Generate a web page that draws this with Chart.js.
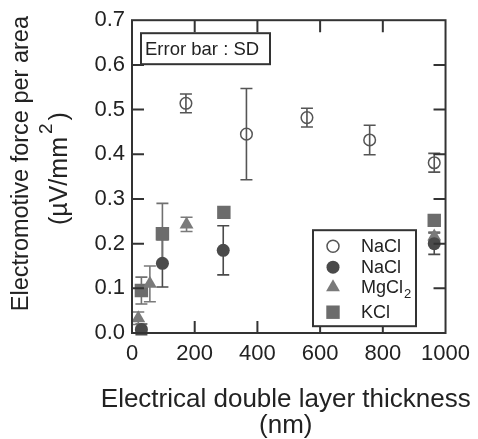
<!DOCTYPE html>
<html><head><meta charset="utf-8">
<script src="https://cdn.jsdelivr.net/npm/chart.js@4.4.1/dist/chart.umd.min.js"></script>
<style>html,body{margin:0;padding:0;background:#fff;}#wrap{width:478px;height:439px;}</style>
</head><body><div id="wrap"><canvas id="c" width="478" height="439"></canvas></div>
<script>
// ---- data ----
const xTickValues = [0, 200, 400, 600, 800, 1000];
const xTickLabels = ["0", "200", "400", "600", "800", "1000"];
const yTickValues = [0, 0.1, 0.2, 0.3, 0.4, 0.5, 0.6, 0.7];
const yTickLabels = ["0.0", "0.1", "0.2", "0.3", "0.4", "0.5", "0.6", "0.7"];

const xTitleLines = ["Electrical double layer thickness", "(nm)"];
const yTitleLine1 = "Electromotive force per area";
const yTitleLine2 = ["(µV/mm", "2", ")"];
const noteText = "Error bar : SD";

const seriesNames = ["NaCl", "NaCl", "MgCl", "KCl"];

const naclOpenX = [172, 365, 558, 758, 964];
const naclOpenY = [0.514, 0.445, 0.482, 0.432, 0.381];
const naclOpenErr = [0.021, 0.102, 0.021, 0.033, 0.021];

const naclFilledX = [30, 97, 291, 964];
const naclFilledY = [0.008, 0.156, 0.185, 0.200];
const naclFilledErr = [0.012, 0.053, 0.055, 0.024];

const mgcl2X = [20, 57, 174, 964];
const mgcl2Y = [0.033, 0.110, 0.243, 0.216];
const mgcl2Err = [0.014, 0.040, 0.016, 0.010];

const kclX = [30, 97, 293, 964];
const kclY = [0.095, 0.222, 0.270, 0.252];
const kclErr = [0.030, 0.068, 0, 0];

const FONT = "'Liberation Sans', Arial, Helvetica, sans-serif";

function pts(xs, ys, es) { return xs.map((x, i) => ({ x: x, y: ys[i], e: es[i] })); }

const errorBars = {
  id: 'errorBars',
  beforeDatasetsDraw(chart) {
    const ctx = chart.ctx;
    const xs = chart.scales.x, ys = chart.scales.y;
    chart.data.datasets.forEach(ds => {
      ctx.save();
      ctx.strokeStyle = ds.errColor;
      ctx.lineWidth = 1.6;
      ds.data.forEach(p => {
        if (!p.e) return;
        const px = xs.getPixelForValue(p.x);
        const top = ys.getPixelForValue(p.y + p.e);
        const bot = ys.getPixelForValue(p.y - p.e);
        ctx.beginPath();
        ctx.moveTo(px, top); ctx.lineTo(px, bot);
        ctx.moveTo(px - 6, top); ctx.lineTo(px + 6, top);
        ctx.moveTo(px - 6, bot); ctx.lineTo(px + 6, bot);
        ctx.stroke();
      });
      ctx.restore();
    });
  }
};

const frameAndExtras = {
  id: 'frameAndExtras',
  afterDraw(chart) {
    const ctx = chart.ctx;
    const a = chart.chartArea;
    const xs = chart.scales.x, ys = chart.scales.y;
    const cx = (a.left + a.right) / 2, cy = (a.top + a.bottom) / 2;
    ctx.save();
    ctx.strokeStyle = '#333';
    ctx.lineWidth = 2;
    ctx.strokeRect(a.left, a.top, a.right - a.left, a.bottom - a.top);
    const TL = 12;
    ctx.beginPath();
    xTickValues.forEach(v => {
      const px = xs.getPixelForValue(v);
      if (px <= a.left + 1 || px >= a.right - 1) return;
      ctx.moveTo(px, a.bottom); ctx.lineTo(px, a.bottom - TL);
      ctx.moveTo(px, a.top); ctx.lineTo(px, a.top + TL);
    });
    yTickValues.forEach(v => {
      const py = ys.getPixelForValue(v);
      if (py <= a.top + 1 || py >= a.bottom - 1) return;
      ctx.moveTo(a.left, py); ctx.lineTo(a.left + TL, py);
      ctx.moveTo(a.right, py); ctx.lineTo(a.right - TL, py);
    });
    ctx.stroke();

    // axis titles
    ctx.fillStyle = '#222';
    ctx.textBaseline = 'alphabetic';
    ctx.textAlign = 'center';
    ctx.font = '26px ' + FONT;
    ctx.fillText(xTitleLines[0], cx - 3, a.bottom + 74);
    ctx.fillText(xTitleLines[1], cx - 3, a.bottom + 100);

    ctx.save();
    ctx.translate(a.left - 104, cy - 13);
    ctx.rotate(-Math.PI / 2);
    ctx.font = '23.5px ' + FONT;
    ctx.fillText(yTitleLine1, 0, 0);
    ctx.restore();

    ctx.save();
    ctx.translate(a.left - 65, cy - 8);
    ctx.rotate(-Math.PI / 2);
    ctx.textAlign = 'left';
    ctx.font = '25px ' + FONT;
    const w1 = ctx.measureText(yTitleLine2[0]).width;
    const w3 = ctx.measureText(yTitleLine2[2]).width;
    ctx.font = '19px ' + FONT;
    const w2 = ctx.measureText(yTitleLine2[1]).width;
    const gap = 3;
    const start = -(w1 + w2 + w3 + 2 * gap) / 2;
    ctx.font = '25px ' + FONT;
    ctx.fillText(yTitleLine2[0], start, 0);
    ctx.fillText(yTitleLine2[2], start + w1 + w2 + 2 * gap, 0);
    ctx.font = '19px ' + FONT;
    ctx.fillText(yTitleLine2[1], start + w1 + gap, -15);
    ctx.restore();

    // "Error bar : SD" box
    const bx = a.left + 9, by = a.top + 13, bw = 129, bh = 31;
    ctx.fillStyle = '#fff';
    ctx.fillRect(bx, by, bw, bh);
    ctx.strokeRect(bx, by, bw, bh);
    ctx.fillStyle = '#222';
    ctx.font = '18.5px ' + FONT;
    ctx.textBaseline = 'middle';
    ctx.textAlign = 'left';
    ctx.fillText(noteText, bx + 4, by + bh / 2 + 1);

    // Legend box
    const lx = a.left + 181, ly = a.top + 210, lw = 103, lh = 96;
    ctx.fillStyle = '#fff';
    ctx.fillRect(lx, ly, lw, lh);
    ctx.strokeRect(lx, ly, lw, lh);
    const rows = [ly + 16, ly + 37, ly + 57, ly + 82];
    const mx = lx + 20, tx = lx + 48;
    chart.data.datasets.forEach((ds, i) => {
      const y = rows[i];
      ctx.save();
      ctx.fillStyle = ds.backgroundColor;
      ctx.strokeStyle = ds.borderColor;
      ctx.lineWidth = ds.borderWidth;
      ctx.beginPath();
      if (ds.pointStyle === 'circle') {
        ctx.arc(mx, y, ds.legendRadius, 0, Math.PI * 2);
      } else if (ds.pointStyle === 'triangle') {
        const r = ds.legendRadius;
        ctx.moveTo(mx, y - r);
        ctx.lineTo(mx + r * 0.866, y + r * 0.5);
        ctx.lineTo(mx - r * 0.866, y + r * 0.5);
        ctx.closePath();
      } else {
        const s = ds.legendRadius * Math.SQRT1_2;
        ctx.rect(mx - s, y - s, 2 * s, 2 * s);
      }
      ctx.fill();
      if (ds.borderWidth) ctx.stroke();
      ctx.restore();
      ctx.fillStyle = '#222';
      ctx.font = '18px ' + FONT;
      ctx.textBaseline = 'middle';
      ctx.textAlign = 'left';
      const name = seriesNames[i];
      ctx.fillText(name, tx, y + 1);
      if (i === 2) {
        const w = ctx.measureText(name).width;
        ctx.font = '13px ' + FONT;
        ctx.fillText('2', tx + w + 1, y + 7);
      }
    });
    ctx.restore();
  }
};

new Chart(document.getElementById('c'), {
  type: 'scatter',
  data: {
    datasets: [
      { label: 'NaCl', data: pts(naclOpenX, naclOpenY, naclOpenErr), pointStyle: 'circle', pointRadius: 5.8,
        backgroundColor: 'rgba(0,0,0,0)', borderColor: '#555', borderWidth: 1.5, errColor: '#555', legendRadius: 6 },
      { label: 'NaCl', data: pts(naclFilledX, naclFilledY, naclFilledErr), pointStyle: 'circle', pointRadius: 6.5,
        backgroundColor: '#4a4a4a', borderColor: '#4a4a4a', borderWidth: 0, errColor: '#4a4a4a', legendRadius: 6.5 },
      { label: 'MgCl2', data: pts(mgcl2X, mgcl2Y, mgcl2Err), pointStyle: 'triangle', pointRadius: 8,
        backgroundColor: '#7a7a7a', borderColor: '#7a7a7a', borderWidth: 0, errColor: '#7a7a7a', legendRadius: 8 },
      { label: 'KCl', data: pts(kclX, kclY, kclErr), pointStyle: 'rect', pointRadius: 9.5,
        backgroundColor: '#6c6c6c', borderColor: '#6c6c6c', borderWidth: 0, errColor: '#707070', legendRadius: 9.5 }
    ]
  },
  options: {
    responsive: false,
    devicePixelRatio: 1,
    animation: false,
    layout: { padding: { top: 15, right: 29, left: 0, bottom: 0 } },
    plugins: { legend: { display: false }, tooltip: { enabled: false } },
    scales: {
      x: {
        type: 'linear', min: 0, max: 1000,
        afterBuildTicks: s => { s.ticks = xTickValues.map(v => ({ value: v })); },
        afterFit: s => { s.height = 106; },
        grid: { display: false, drawTicks: false },
        border: { display: false },
        ticks: { padding: 8, color: '#222', font: { size: 22, family: FONT },
          callback: (v, i) => xTickLabels[i] },
        title: { display: false }
      },
      y: {
        type: 'linear', min: 0, max: 0.7,
        afterBuildTicks: s => { s.ticks = yTickValues.map(v => ({ value: v })); },
        afterFit: s => { s.width = 132; },
        grid: { display: false, drawTicks: false },
        border: { display: false },
        ticks: { padding: 7, color: '#222', font: { size: 22, family: FONT },
          callback: (v, i) => yTickLabels[i] },
        title: { display: false }
      }
    }
  },
  plugins: [errorBars, frameAndExtras]
});
</script>
</body></html>
